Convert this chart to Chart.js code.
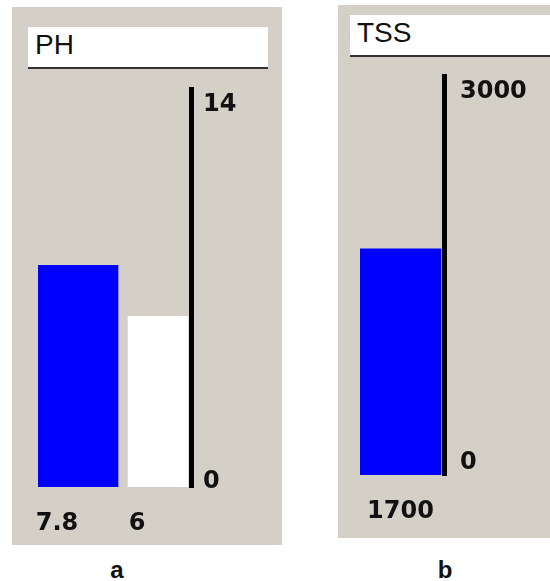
<!DOCTYPE html>
<html>
<head>
<meta charset="utf-8">
<title>PH / TSS</title>
<script src="https://cdn.jsdelivr.net/npm/chart.js"></script>
<style>
body {
  margin: 0;
  background: #fff;
  width: 550px;
  height: 581px;
  position: relative;
  overflow: hidden;
  font-family: "Liberation Sans", Arial, sans-serif;
}
.panel { position: absolute; background: #d4d0c8; }
.title-box {
  position: absolute;
  background: #fff;
  border-bottom: 2px solid #333;
  box-sizing: border-box;
  height: 42px;
  padding: 4px 0 0 7px;
  font-size: 28px;
  line-height: 28px;
  color: #111;
}
.caption {
  position: absolute;
  width: 40px;
  text-align: center;
  font-weight: bold;
  font-size: 24px;
  line-height: 24px;
  color: #111;
}
canvas { position: absolute; }
</style>
</head>
<body>

<div class="panel" style="left:12px; top:7px; width:270px; height:538px;"></div>
<div class="title-box" style="left:28px; top:27px; width:240px;">PH</div>
<canvas id="phChart" width="270" height="475" style="left:12px; top:70px;"></canvas>
<div class="caption" style="left:97px; top:558px;">a</div>

<div class="panel" style="left:338px; top:5px; width:212px; height:533px;"></div>
<div class="title-box" style="left:350px; top:15px; width:200px;">TSS</div>
<canvas id="tssChart" width="212" height="478" style="left:338px; top:60px;"></canvas>
<div class="caption" style="left:425px; top:558px;">b</div>

<script>
// valores
const phValues = [7.8, 6];
const phScale = [0, 14];
const tssValues = [1700];
const tssScale = [0, 3000];

// etiquetas 0 / máximo junto al eje vertical (la de arriba cuelga, la de abajo se apoya)
const edgeTicks = {
  id: 'edgeTicks',
  afterDraw(chart, args, o) {
    const y = chart.scales.y;
    const ctx = chart.ctx;
    ctx.save();
    ctx.font = 'bold 24px "DejaVu Sans"';
    ctx.fillStyle = '#111';
    ctx.textAlign = 'left';
    ctx.textBaseline = 'alphabetic';
    y.ticks.forEach(t => {
      const py = y.getPixelForValue(t.value);
      const dy = t.value === y.max ? o.topDrop : o.bottomLift;
      ctx.fillText(String(t.value), chart.chartArea.right + o.gap, py + dy);
    });
    ctx.restore();
  }
};

function drawGauge(id, values, range, look) {
  new Chart(document.getElementById(id), {
    type: 'bar',
    data: {
      datasets: values.map((v, i) => ({
        data: [{ x: i, y: v }],
        backgroundColor: look.colors[i],
        maxBarThickness: look.widths[i],
        barPercentage: 1,
        categoryPercentage: 1,
        grouped: false,
        borderWidth: 0
      }))
    },
    options: {
      responsive: false,
      animation: false,
      layout: { padding: { left: look.left, top: look.top, right: 0, bottom: 0 } },
      plugins: {
        legend: { display: false },
        tooltip: { enabled: false },
        edgeTicks: look.edge
      },
      scales: {
        x: {
          type: 'linear',
          offset: false,
          bounds: 'data',
          min: -0.5,
          max: values.length - 1 + look.tail,
          afterBuildTicks: s => { s.ticks = values.map((v, i) => ({ value: i })); },
          afterFit: s => { s.height = look.xHeight; },
          grid: { display: false, drawTicks: false },
          border: { display: false },
          ticks: {
            callback: (val, i) => String(values[i]),
            // lineHeight alto = etiqueta más abajo sin tocar el padding lateral
            font: { family: 'DejaVu Sans', size: 24, weight: 'bold', lineHeight: 3.1 },
            color: '#111',
            padding: 0,
            labelOffset: look.labelShift,
            maxRotation: 0,
            autoSkip: false
          }
        },
        y: {
          position: 'right',
          min: range[0],
          max: range[1],
          afterBuildTicks: s => { s.ticks = range.map(v => ({ value: v })); },
          afterFit: s => { s.width = look.yWidth; },
          grid: { display: false, drawTicks: false },
          border: { display: true, color: '#000', width: 5 },
          ticks: { display: false }
        }
      }
    },
    plugins: [edgeTicks]
  });
}

drawGauge('phChart', phValues, phScale, {
  colors: ['#0000ff', '#ffffff'],
  widths: [80, 60],
  left: 26, top: 19, xHeight: 58, yWidth: 91,
  tail: 0.4125,
  labelShift: -21,
  edge: { gap: 12, topDrop: 22, bottomLift: 1 }
});

drawGauge('tssChart', tssValues, tssScale, {
  colors: ['#0000ff'],
  widths: [81],
  left: 22, top: 16, xHeight: 63, yWidth: 106,
  tail: 0.537,
  labelShift: 0,
  edge: { gap: 16, topDrop: 22, bottomLift: -6 }
});
</script>

</body>
</html>
